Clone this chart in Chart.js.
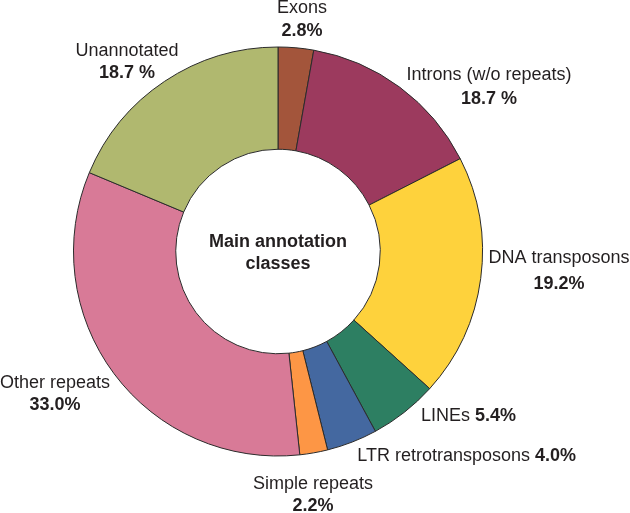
<!DOCTYPE html>
<html>
<head>
<meta charset="utf-8">
<script src="https://cdn.jsdelivr.net/npm/chart.js@4"></script>
<style>
  html, body { margin: 0; padding: 0; background: #fff; }
  #wrap { width: 630px; height: 513px; position: relative; }
</style>
</head>
<body>
<div id="wrap"><canvas id="chart" width="630" height="513"></canvas></div>
<script>
// data (slice sizes in % of the ring)
const categories = ['Exons', 'Introns (w/o repeats)', 'DNA transposons', 'LINEs',
  'LTR retrotransposons', 'Simple repeats', 'Other repeats', 'Unannotated'];
const values = [2.8, 14.7, 19.2, 5.4, 4.0, 2.2, 33.0, 18.7];
const pctLabels = ['2.8%', '18.7 %', '19.2%', '5.4%', '4.0%', '2.2%', '33.0%', '18.7 %'];
const colors = ['#a3553b', '#9c3a5e', '#fed23c', '#2d7f62', '#4468a0', '#fd9645', '#d87a97', '#b0b86f'];

// where each label sits (text placement only)
const labelPos = [
  { x: 302, y: 8, y2: 31 },
  { x: 489, y: 75, y2: 99 },
  { x: 559, y: 258, y2: 284 },
  { x: 421, y: 416, inline: 'left' },
  { x: 576, y: 456, inline: 'right' },
  { x: 313, y: 484, y2: 506 },
  { x: 55, y: 383, y2: 405 },
  { x: 127, y: 51, y2: 73 }
];

const FONT = '"Liberation Sans", Arial, Helvetica, sans-serif';
const textColor = '#231f20';

const labelPlugin = {
  id: 'sliceLabels',
  afterDraw(chart) {
    const ctx = chart.ctx;
    ctx.save();
    ctx.fillStyle = textColor;
    ctx.textBaseline = 'middle';
    const normal = '18px ' + FONT;
    const bold = 'bold 18px ' + FONT;

    categories.forEach((name, i) => {
      const p = labelPos[i];
      if (p.inline === 'left') {
        ctx.textAlign = 'left';
        ctx.font = normal;
        ctx.fillText(name, p.x, p.y);
        const w = ctx.measureText(name + ' ').width;
        ctx.font = bold;
        ctx.fillText(pctLabels[i], p.x + w, p.y);
      } else if (p.inline === 'right') {
        ctx.textAlign = 'right';
        ctx.font = bold;
        ctx.fillText(pctLabels[i], p.x, p.y);
        const w = ctx.measureText(pctLabels[i]).width;
        ctx.font = normal;
        ctx.fillText(name + ' ', p.x - w, p.y);
      } else {
        ctx.textAlign = 'center';
        ctx.font = normal;
        ctx.fillText(name, p.x, p.y);
        ctx.font = bold;
        ctx.fillText(pctLabels[i], p.x, p.y2);
      }
    });

    // centre title
    const meta = chart.getDatasetMeta(0).data[0];
    ctx.textAlign = 'center';
    ctx.font = bold;
    ctx.fillText('Main annotation', meta.x, meta.y - 9);
    ctx.fillText('classes', meta.x, meta.y + 13);
    ctx.restore();
  }
};

new Chart(document.getElementById('chart'), {
  type: 'doughnut',
  data: {
    labels: categories,
    datasets: [{
      data: values,
      backgroundColor: colors,
      borderColor: '#2b2b2b',
      borderWidth: 1
    }]
  },
  options: {
    responsive: false,
    animation: false,
    cutout: '50%',
    layout: { padding: { left: 73, right: 147, top: 46, bottom: 56 } },
    plugins: {
      legend: { display: false },
      tooltip: { enabled: false }
    }
  },
  plugins: [labelPlugin]
});
</script>
</body>
</html>
